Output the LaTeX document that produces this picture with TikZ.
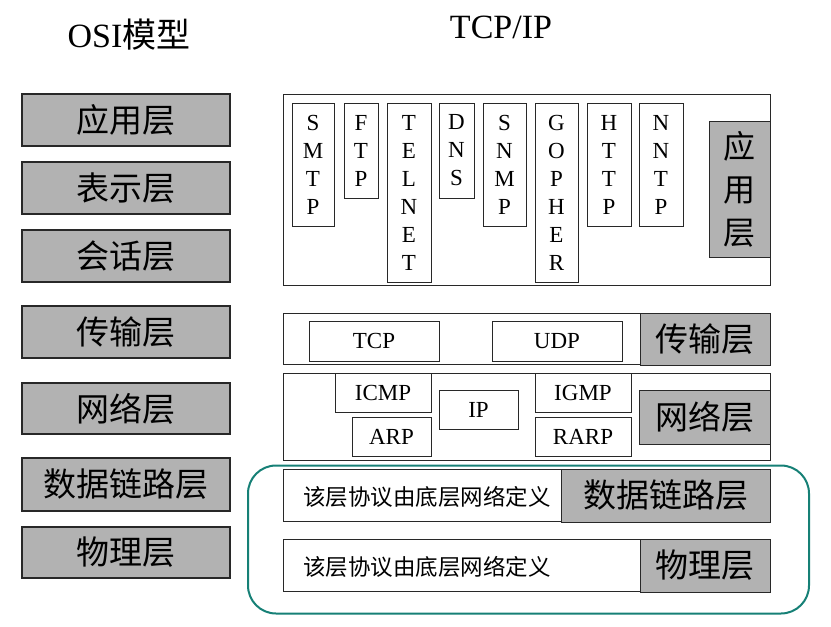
\documentclass[tikz,border=0pt]{standalone}
\usepackage{fontspec}
\setmainfont{Liberation Serif}
\newfontfamily\cjk{Noto Sans CJK SC}
\definecolor{boxgray}{RGB}{178,178,178}
\definecolor{frameteal}{RGB}{22,128,118}
\definecolor{edge}{RGB}{40,40,40}
\newcommand\placebox[7]{\node[#1,minimum width={#5-#3},minimum height={#6-#4}] (#2) at ({(#3+#5)/2},{(#4+#6)/2}) {#7};}
\tikzset{
  plain/.style={draw=edge, line width=0.9pt, fill=white, inner sep=0pt, outer sep=0pt},
  shaded/.style={plain, fill=boxgray},
  osibox/.style={shaded, line width=1.1pt, font=\cjk\fontsize{33}{36}\selectfont},
  proto/.style={plain, align=center, font=\fontsize{23}{28}\selectfont},
  hproto/.style={plain, font=\fontsize{23}{26}\selectfont},
  tcplabel/.style={shaded, font=\cjk\fontsize{33}{36}\selectfont},
  note/.style={font=\cjk\fontsize{22.5}{26}\selectfont, inner sep=0pt, anchor=west},
  title/.style={font=\fontsize{34}{38}\selectfont, inner sep=0pt},
}
\begin{document}
\begin{tikzpicture}[x=1pt,y=-1pt]
\useasboundingbox (0,0) rectangle (831,627);
% titles
\node[title] (osititle) at (129,35) {OSI{\cjk 模型}};
\node[title] (tcptitle) at (501,27) {TCP/IP};
% OSI model column
\placebox{osibox}{osi7}{22}{94}{230}{146}{应用层}
\placebox{osibox}{osi6}{22}{162}{230}{214}{表示层}
\placebox{osibox}{osi5}{22}{230}{230}{282}{会话层}
\placebox{osibox}{osi4}{22}{306}{230}{358}{传输层}
\placebox{osibox}{osi3}{22}{383}{230}{434}{网络层}
\placebox{osibox}{osi2}{22}{458}{230}{511}{数据链路层}
\placebox{osibox}{osi1}{22}{527}{230}{578}{物理层}
% teal group frame
\node[draw=frameteal, line width=2pt, rounded corners=28pt, minimum width=561pt, minimum height=148pt, inner sep=0pt] (lowergroup) at (528.5,539.5) {};
% application layer
\placebox{plain}{appouter}{283}{94}{770}{285}{}
\placebox{proto}{smtp}{292}{103}{334}{226}{S\\M\\T\\P}
\placebox{proto}{ftp}{344}{103}{378}{198}{F\\T\\P}
\placebox{proto}{telnet}{387}{103}{431}{282}{T\\E\\L\\N\\E\\T}
\placebox{proto}{dns}{439}{103}{474}{198}{D\\N\\S}
\placebox{proto}{snmp}{483}{103}{526}{226}{S\\N\\M\\P}
\placebox{proto}{gopher}{535}{103}{578}{282}{G\\O\\P\\H\\E\\R}
\placebox{proto}{http}{587}{103}{631}{226}{H\\T\\T\\P}
\placebox{proto}{nntp}{639}{103}{683}{226}{N\\N\\T\\P}
\placebox{tcplabel, align=center, font=\cjk\fontsize{32}{43}\selectfont}{applabel}{709}{121}{770}{257}{应\\用\\层}
% transport layer
\placebox{plain}{transouter}{283}{313}{770}{364}{}
\placebox{hproto}{tcp}{309}{321}{439}{361}{TCP}
\placebox{hproto}{udp}{492}{321}{622}{361}{UDP}
\placebox{tcplabel}{translabel}{640}{313}{770}{365}{传输层}
% network layer
\placebox{plain}{netouter}{283}{373}{770}{460}{}
\placebox{hproto}{icmp}{335}{373}{431}{412}{ICMP}
\placebox{hproto}{arp}{352}{417}{431}{456}{ARP}
\placebox{hproto}{ip}{439}{390}{518}{429}{IP}
\placebox{hproto}{igmp}{535}{373}{631}{412}{IGMP}
\placebox{hproto}{rarp}{535}{417}{631}{456}{RARP}
\placebox{tcplabel}{netlabel}{639}{390}{770}{444}{网络层}
% data link layer
\placebox{plain}{dlbox}{283}{469}{561}{521}{}
\placebox{tcplabel}{dllabel}{561}{469}{770}{522}{数据链路层}
\node[note] (dlnote) at (303,497) {该层协议由底层网络定义};
% physical layer
\placebox{plain}{phbox}{283}{539}{640}{591}{}
\placebox{tcplabel}{phlabel}{640}{539}{770}{592}{物理层}
\node[note] (phnote) at (303,567) {该层协议由底层网络定义};
\end{tikzpicture}
\end{document}
